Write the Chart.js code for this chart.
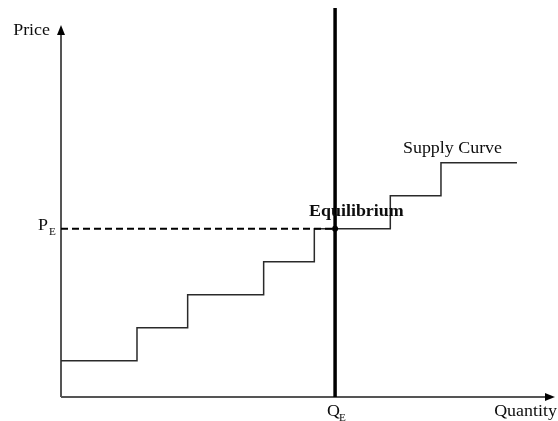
<!DOCTYPE html>
<html><head><meta charset="utf-8">
<script src="https://cdn.jsdelivr.net/npm/chart.js@4/dist/chart.umd.min.js"></script>
<style>html,body{margin:0;padding:0;background:#fff;overflow:hidden}canvas{display:block}</style>
</head><body>
<canvas id="c" width="558" height="421"></canvas>
<script>
// Supply curve: start of each step (quantity, price)
const stepQuantity = [0, 3, 5, 8, 10, 13, 15, 18];
const stepPrice = [1.1, 2.1, 3.1, 4.1, 5.1, 6.1, 7.1, 7.1];
// Equilibrium
const equilibriumQuantity = 10.82;
const equilibriumPrice = 5.1;
const demandLineTop = 11.79;
// Axis extents (arrow centres)
const xAxisEnd = 19.3;
const yAxisEnd = 11.12;
// Texts
const axisTitles = ['Price', 'Quantity'];
const markerLabels = ['P', 'Q'];
const markerSubscript = 'E';
const annotationLabels = ['Supply Curve', 'Equilibrium'];

function makeArrow() {
  const c = document.createElement('canvas');
  c.width = 8; c.height = 10;
  const g = c.getContext('2d');
  g.fillStyle = '#000';
  g.beginPath(); g.moveTo(4, 0); g.lineTo(8, 10); g.lineTo(0, 10); g.closePath(); g.fill();
  return c;
}
const arrow = makeArrow();

const SERIF = '"Liberation Serif", "Times New Roman", serif';
const STRETCH = 1.12;

function txt(ctx, s, x, y, font, align) {
  ctx.save();
  ctx.font = font;
  ctx.textBaseline = 'alphabetic';
  ctx.fillStyle = '#0d0d0d';
  let w = ctx.measureText(s).width * STRETCH;
  let x0 = x;
  if (align === 'right') x0 = x - w;
  if (align === 'center') x0 = x - w / 2;
  ctx.translate(x0, y);
  ctx.scale(STRETCH, 1);
  ctx.textAlign = 'left';
  ctx.fillText(s, 0, 0);
  ctx.restore();
  return x0 + w;
}

const labelPlugin = {
  id: 'labels',
  afterDatasetsDraw(chart) {
    const ctx = chart.ctx;
    const xs = chart.scales.x, ys = chart.scales.y;
    const f = '16px ' + SERIF, fb = 'bold 16px ' + SERIF, fs = '10px ' + SERIF;
    const x0 = xs.getPixelForValue(0), y0 = ys.getPixelForValue(0);
    // Price title
    txt(ctx, axisTitles[0], x0 - 11, ys.getPixelForValue(yAxisEnd) + 5, f, 'right');
    // Quantity title
    txt(ctx, axisTitles[1], xs.getPixelForValue(xAxisEnd) + 7, y0 + 19, f, 'right');
    // P_E
    const py = ys.getPixelForValue(equilibriumPrice);
    let e = txt(ctx, markerLabels[0], x0 - 23, py + 1, f, 'left');
    txt(ctx, markerSubscript, e + 1, py + 6, fs, 'left');
    // Q_E
    const qx = xs.getPixelForValue(equilibriumQuantity);
    e = txt(ctx, markerLabels[1], qx - 8, y0 + 19, f, 'left');
    txt(ctx, markerSubscript, e - 1, y0 + 24, fs, 'left');
    // Supply Curve
    txt(ctx, annotationLabels[0], xs.getPixelForValue(stepQuantity[6]) - 38, ys.getPixelForValue(stepPrice[7]) - 10, f, 'left');
    // Equilibrium
    txt(ctx, annotationLabels[1], qx - 26, py - 13, fb, 'left');
  }
};

const pts = (xa, ya) => xa.map((x, i) => ({ x, y: ya[i] }));

new Chart(document.getElementById('c'), {
  type: 'scatter',
  data: {
    datasets: [
      { // y axis
        data: pts([0, 0], [0, yAxisEnd]), showLine: true, borderColor: '#555', borderWidth: 2,
        pointRadius: [0, 5], pointStyle: arrow, pointRotation: 0, order: 5, clip: false
      },
      { // x axis
        data: pts([0, xAxisEnd], [0, 0]), showLine: true, borderColor: '#555', borderWidth: 2,
        pointRadius: [0, 5], pointStyle: arrow, pointRotation: 90, order: 5, clip: false
      },
      { // supply steps
        data: pts(stepQuantity, stepPrice), showLine: true, stepped: 'before',
        borderColor: '#2a2a2a', borderWidth: 1.5, pointRadius: 0, order: 4, clip: false
      },
      { // dashed price line
        data: pts([0, equilibriumQuantity], [equilibriumPrice, equilibriumPrice]), showLine: true,
        borderColor: '#000', borderWidth: 2, borderDash: [7, 4], pointRadius: 0, order: 3, clip: false
      },
      { // vertical line
        data: pts([equilibriumQuantity, equilibriumQuantity], [0, demandLineTop]), showLine: true,
        borderColor: '#000', borderWidth: 3.5, pointRadius: 0, order: 2, clip: false
      },
      { // equilibrium point
        data: pts([equilibriumQuantity], [equilibriumPrice]), showLine: false,
        pointRadius: 3, pointBackgroundColor: '#000', pointBorderColor: '#000', pointBorderWidth: 0, order: 1, clip: false
      }
    ]
  },
  options: {
    responsive: false,
    devicePixelRatio: 1,
    animation: false,
    layout: { autoPadding: false, padding: { left: 61, right: 0, top: 0, bottom: 24 } },
    plugins: { legend: { display: false }, tooltip: { enabled: false } },
    scales: {
      x: { type: 'linear', min: 0, max: 19.62, display: false },
      y: { type: 'linear', min: 0, max: 12.03, display: false }
    }
  },
  plugins: [labelPlugin]
});
</script>
</body></html>
